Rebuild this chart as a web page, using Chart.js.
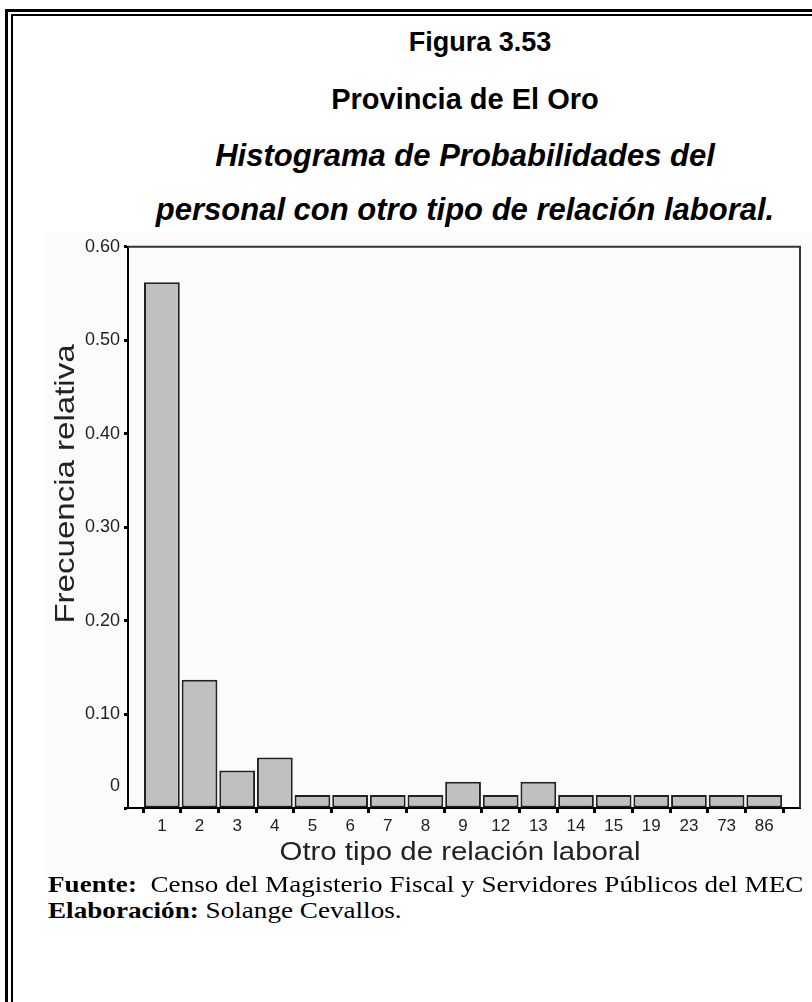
<!DOCTYPE html>
<html>
<head>
<meta charset="utf-8">
<script src="https://cdn.jsdelivr.net/npm/chart.js@4.4.0/dist/chart.umd.min.js"></script>
<style>
  body { margin: 0; width: 812px; height: 1002px; background: #fff; position: relative; overflow: hidden; font-family: Arial, "Liberation Sans", sans-serif; }
  .frame-outer { position: absolute; left: 5px; top: 9px; width: 900px; height: 1100px; border-left: 3px solid #000; border-top: 3px solid #000; }
  .frame-inner { position: absolute; left: 11px; top: 14px; width: 900px; height: 1100px; border-left: 2px solid #000; border-top: 2px solid #000; }
  .title { position: absolute; left: 465px; transform: translateX(-50%); white-space: nowrap; font-weight: bold; color: #000; line-height: 1; }
  .title.it { font-style: italic; }
  #wrap { position: absolute; left: 45px; top: 232px; width: 767px; height: 648px; background: #fbfbfb; overflow: hidden; }
  .foot { position: absolute; left: 48px; font-family: "Times New Roman", "Liberation Serif", serif; font-size: 23px; line-height: 1; white-space: nowrap; color: #000; transform: scaleX(1.18); transform-origin: left center; }
</style>
</head>
<body>
<div class="frame-outer"></div>
<div class="frame-inner"></div>
<div class="title" style="top:29px;left:480px;font-size:27px">Figura 3.53</div>
<div class="title" style="top:85px;font-size:29px">Provincia de El Oro</div>
<div class="title it" style="top:140px;font-size:31px">Histograma de Probabilidades del</div>
<div class="title it" style="top:194px;font-size:31px">personal con otro tipo de relación laboral.</div>
<div id="wrap"><canvas id="chart" width="767" height="650"></canvas></div>
<div class="foot" style="top:873px"><b>Fuente:</b>&nbsp; Censo del Magisterio Fiscal y Servidores Públicos del MEC</div>
<div class="foot" style="top:899px"><b>Elaboración:</b> Solange Cevallos.</div>
<script>
// datos
const categories = ['1', '2', '3', '4', '5', '6', '7', '8', '9', '12', '13', '14', '15', '19', '23', '73', '86'];
const frecuencias = [0.562, 0.137, 0.040, 0.054, 0.014, 0.014, 0.014, 0.014, 0.028, 0.014, 0.028, 0.014, 0.014, 0.014, 0.014, 0.014, 0.014];
const yTicks = [0, 0.1, 0.2, 0.3, 0.4, 0.5, 0.6];

const sans = 'Arial, "Liberation Sans", sans-serif';

// marco superior/derecho y titulos de los ejes
const framePlugin = {
  id: 'frame',
  afterDraw(chart) {
    const { ctx, chartArea: a } = chart;
    ctx.save();
    ctx.strokeStyle = '#333';
    ctx.lineWidth = 2;
    ctx.beginPath();
    ctx.moveTo(a.left, a.top);
    ctx.lineTo(a.right, a.top);
    ctx.lineTo(a.right, a.bottom);
    ctx.stroke();
    ctx.fillStyle = '#222';
    ctx.textAlign = 'center';
    ctx.textBaseline = 'middle';
    // eje y
    ctx.save();
    ctx.translate(21, 252);
    ctx.rotate(-Math.PI / 2);
    ctx.scale(1.18, 1);
    ctx.font = '28px ' + sans;
    ctx.fillText('Frecuencia relativa', 0, 0);
    ctx.restore();
    // eje x
    ctx.save();
    ctx.translate(415, 621);
    ctx.scale(1.13, 1);
    ctx.font = '26px ' + sans;
    ctx.fillText('Otro tipo de relación laboral', 0, 0);
    ctx.restore();
    ctx.restore();
  }
};

new Chart(document.getElementById('chart'), {
  type: 'bar',
  data: {
    datasets: [{
      data: frecuencias.map((v, i) => ({ x: i, y: v })),
      backgroundColor: '#c0c0c0',
      borderColor: '#222',
      borderWidth: 2,
      borderSkipped: false,
      categoryPercentage: 1,
      barPercentage: 0.95
    }]
  },
  options: {
    responsive: false,
    animation: false,
    layout: { padding: { top: 11, right: 12, left: 0, bottom: 0 } },
    plugins: { legend: { display: false }, tooltip: { enabled: false } },
    scales: {
      x: {
        type: 'linear',
        offset: false,
        min: -0.9,
        max: 16.95,
        afterBuildTicks: (axis) => { axis.ticks = categories.map((c, i) => ({ value: i })); },
        afterFit: (axis) => { axis.height = 74; },
        grid: { drawOnChartArea: false, tickLength: 5, tickWidth: 3, color: '#000' },
        border: { color: '#000', width: 2 },
        ticks: {
          color: '#222', font: { family: sans, size: 17 }, padding: 3, autoSkip: false, maxRotation: 0,
          callback: (v) => categories[v]
        }
      },
      y: {
        min: 0,
        max: 0.6,
        afterBuildTicks: (axis) => { axis.ticks = yTicks.map(v => ({ value: v })); },
        afterFit: (axis) => { axis.width = 83; },
        grid: { drawOnChartArea: false, tickLength: 4, tickWidth: 3, color: '#000' },
        border: { color: '#000', width: 2 },
        ticks: {
          color: '#222', font: { family: sans, size: 18 }, padding: 4,
          // el "0" aparece algo por encima de su marca en el original
          callback: (v) => v === 0 ? ['0', '', ''] : v.toFixed(2)
        }
      }
    }
  },
  plugins: [framePlugin]
});
</script>
</body>
</html>
